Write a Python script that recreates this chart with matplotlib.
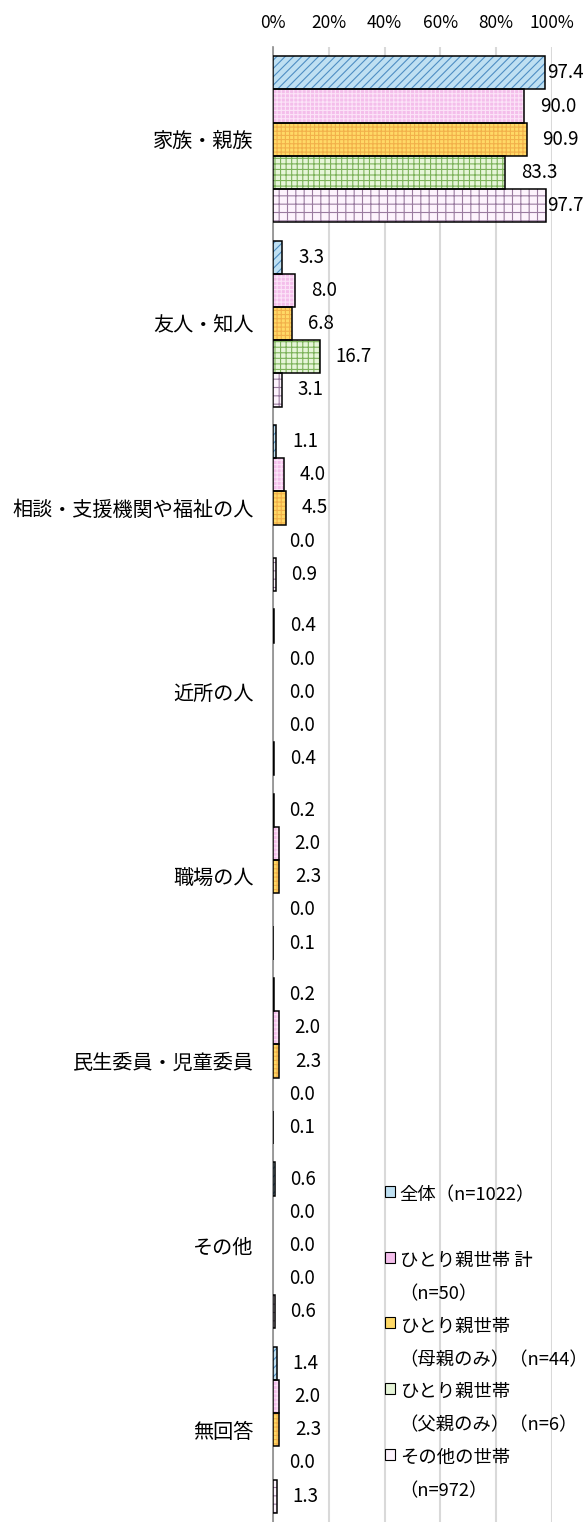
import matplotlib
matplotlib.use("Agg")
import matplotlib.pyplot as plt
from matplotlib.patches import Patch
import numpy as np

plt.rcParams['font.family'] = ['Noto Sans CJK JP', 'DejaVu Sans']
plt.rcParams['hatch.linewidth'] = 0.8

categories = ['家族・親族', '友人・知人', '相談・支援機関や福祉の人', '近所の人',
              '職場の人', '民生委員・児童委員', 'その他', '無回答']

series_labels = ['全体（n=1022）\n ',
                 'ひとり親世帯 計\n（n=50）',
                 'ひとり親世帯\n（母親のみ）（n=44）',
                 'ひとり親世帯\n（父親のみ）（n=6）',
                 'その他の世帯\n（n=972）']

all_hh = [97.4, 3.3, 1.1, 0.4, 0.2, 0.2, 0.6, 1.4]
single_total = [90.0, 8.0, 4.0, 0.0, 2.0, 2.0, 0.0, 2.0]
single_mother = [90.9, 6.8, 4.5, 0.0, 2.3, 2.3, 0.0, 2.3]
single_father = [83.3, 16.7, 0.0, 0.0, 0.0, 0.0, 0.0, 0.0]
other_hh = [97.7, 3.1, 0.9, 0.4, 0.1, 0.1, 0.6, 1.3]

xticks = [0, 20, 40, 60, 80, 100]
xticklabels = ['0%', '20%', '40%', '60%', '80%', '100%']

series = [all_hh, single_total, single_mother, single_father, other_hh]
# face colour, hatch colour, hatch pattern
styles = [('#BFE0F2', '#4F8FC4', '////'),
          ('#F4BEEB', '#FCE4F8', '++++'),
          ('#FFD966', '#F2B04A', '++++'),
          ('#E6F5D8', '#7CB25A', '+++'),
          ('#FDF3FD', '#9A7BA0', '++')]

fig = plt.figure(figsize=(5.88, 15.22), dpi=100)
ax = fig.add_axes([273 / 588, 0.0, 279 / 588, 1 - 47 / 1522])

y = np.arange(len(categories))
bh = 0.18
for j, vals in enumerate(series):
    face, hcol, hatch = styles[j]
    pos = y + (j - 2) * bh
    vals = np.array(vals)
    # hatched fill
    ax.barh(pos, vals, height=bh, color=face, edgecolor=hcol, hatch=hatch,
            linewidth=0, zorder=2)
    # black outline
    lw = [1.1 if v > 0 else 0 for v in vals]
    ax.barh(pos, vals, height=bh, fill=False, edgecolor='black',
            linewidth=lw, zorder=3)
    for p, v in zip(pos, vals):
        ax.text(min(v + 5.7, 98.2), p, f'{v:.1f}', ha='left', va='center',
                fontsize=13.5, color='black', zorder=4)

ax.set_xlim(0, 100)
ax.set_ylim(7.5, -0.5)
ax.set_xticks(xticks)
ax.set_xticklabels(xticklabels)
ax.xaxis.tick_top()
ax.tick_params(axis='x', length=0, pad=11, labelsize=12.5)
ax.set_yticks(y)
ax.set_yticklabels(categories)
ax.tick_params(axis='y', length=0, pad=14, labelsize=14.5)
ax.xaxis.grid(True, color='#D9D9D9', linewidth=1.5)
ax.set_axisbelow(True)
for s in ['top', 'right', 'bottom']:
    ax.spines[s].set_visible(False)
ax.spines['left'].set_color('#8C8C8C')
ax.spines['left'].set_linewidth(1.2)
ax.spines['left'].set_zorder(1)

handles = [Patch(facecolor=styles[j][0], edgecolor='black', linewidth=0.8)
           for j in range(len(series))]
leg = fig.legend(handles, series_labels, loc='upper left',
                 bbox_to_anchor=(385 / 588, 1 - 1186 / 1522),
                 frameon=False, fontsize=13.2, handlelength=0.55,
                 handleheight=0.55, handletextpad=0.25, labelspacing=0.78,
                 borderpad=0, borderaxespad=0)
for t in leg.get_texts():
    t.set_linespacing(2.1)
for col in leg._legend_handle_box.get_children():
    for item in col.get_children():
        item.align = 'top'

fig.savefig('out.png', dpi=100)
